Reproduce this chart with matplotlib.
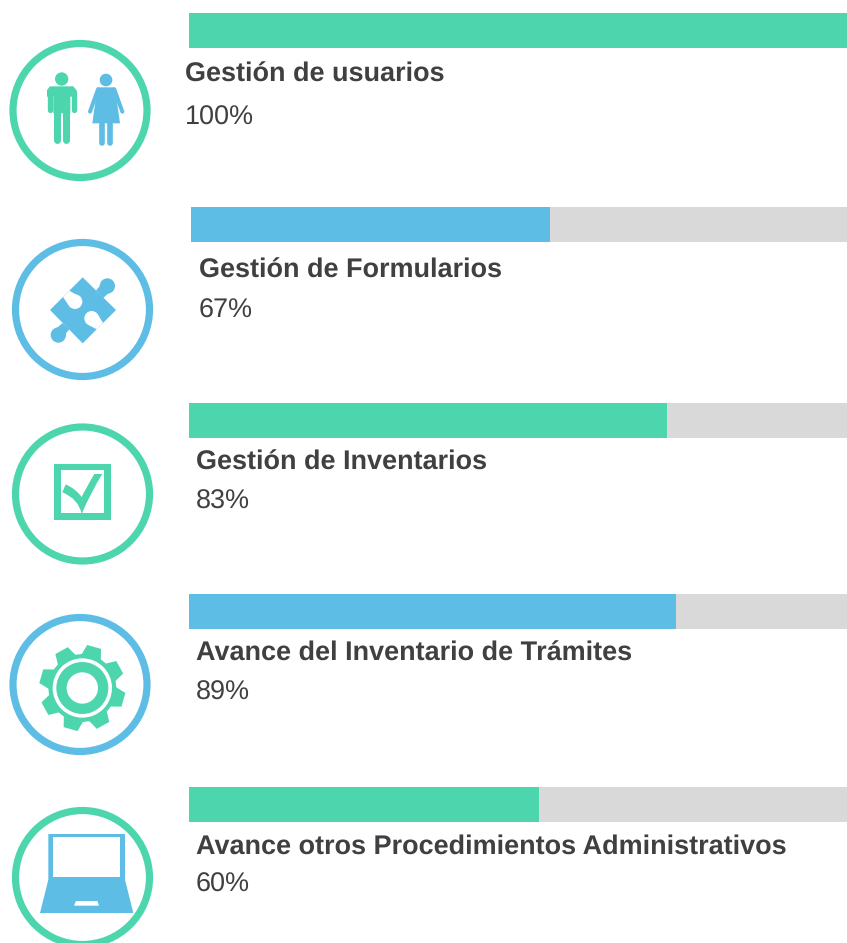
import numpy as np
import matplotlib
matplotlib.use("Agg")
import matplotlib.pyplot as plt
from matplotlib.patches import Circle, Polygon, Rectangle, PathPatch
from matplotlib.path import Path

plt.rcParams["text.hinting"] = "no_hinting"
plt.rcParams["text.hinting_factor"] = 1

# ---- data ----
titles = ["Gestión de usuarios", "Gestión de Formularios", "Gestión de Inventarios",
          "Avance del Inventario de Trámites", "Avance otros Procedimientos Administrativos"]
pct_labels = ["100%", "67%", "83%", "89%", "60%"]
fill_share = [1.0, 0.547, 0.726, 0.740, 0.532]   # drawn length of each bar, share of track

GREEN, BLUE, GREY, TXT = "#4DD6AE", "#5EBDE5", "#D9D9D9", "#404040"
bar_colors = [GREEN, BLUE, GREEN, BLUE, GREEN]
ring_colors = [GREEN, BLUE, GREEN, BLUE, GREEN]
bar_left = [189, 191, 189, 189, 189]
bar_top = [13, 207, 403, 594, 787]
BAR_H, RIGHT = 35, 847
text_x = [185, 199, 196, 196, 196]
title_base = [81.5, 278, 469.5, 660.5, 853.5]
pct_base = [125, 317.5, 509, 699.5, 892]
ring_c = [(80, 110.5), (82.5, 309.5), (82.5, 494), (80, 684.5), (82.5, 877.5)]
R_MID, R_W = 67, 7.2

fig = plt.figure(figsize=(8.47, 9.43), dpi=100)
ax = fig.add_axes([0, 0, 1, 1])
ax.set_xlim(0, 847); ax.set_ylim(943, 0); ax.axis("off")

for i, t in enumerate(titles):
    track = RIGHT - bar_left[i]
    yc = bar_top[i] + BAR_H / 2
    ax.barh(yc, track, height=BAR_H, left=bar_left[i], color=GREY, linewidth=0)
    ax.barh(yc, track * fill_share[i], height=BAR_H, left=bar_left[i],
            color=bar_colors[i], linewidth=0)
    ax.text(text_x[i], title_base[i], t, family="Liberation Sans", weight="bold",
            fontsize=19.37, color=TXT, va="baseline", ha="left")
    ax.text(text_x[i], pct_base[i], pct_labels[i], family="Liberation Sans",
            fontsize=19.37, color=TXT, va="baseline", ha="left")
    ax.add_patch(Circle(ring_c[i], R_MID, fill=False, ec=ring_colors[i], lw=R_W * 0.72))


def zoomer(ox, oy):
    """Map crop-space icon coordinates (3x) to figure pixels."""
    return lambda pts: [(ox + x / 3, oy + y / 3) for x, y in pts]


def poly(z, pts, c, **kw):
    ax.add_patch(Polygon(z(pts), closed=True, fc=c, ec="none", **kw))


def circ(z, c0, r, c):
    ax.add_patch(Circle(z([c0])[0], r / 3, fc=c, ec="none"))


def stroke(z, pts, w, c):
    p = z(pts)
    ax.plot([a for a, _ in p], [b for _, b in p], color=c, lw=w / 3 * 0.72,
            solid_capstyle="round", solid_joinstyle="round")


# icon 1: people
z = zoomer(0, 30)
circ(z, (185, 147), 20, GREEN)
poly(z, [(150, 169), (220, 169), (229, 180), (229, 200), (211, 200), (211, 250), (160, 250), (160, 200), (141, 200), (141, 180)], GREEN)
stroke(z, [(149, 185), (149, 240)], 16, GREEN)
stroke(z, [(221, 185), (221, 240)], 16, GREEN)
stroke(z, [(171, 245), (171, 331)], 21, GREEN)
stroke(z, [(199, 245), (199, 331)], 21, GREEN)
circ(z, (318, 150), 19, BLUE)
poly(z, [(292, 172), (345, 172), (360, 280), (277, 280)], BLUE)
stroke(z, [(294, 178), (270, 245)], 12, BLUE)
stroke(z, [(343, 178), (367, 245)], 12, BLUE)
stroke(z, [(305, 275), (305, 338)], 17, BLUE)
stroke(z, [(331, 275), (331, 338)], 17, BLUE)

# icon 2: puzzle piece
z = zoomer(0, 230)
poly(z, [(248, 142), (348, 240), (248, 340), (150, 240)], BLUE)
circ(z, (322, 168), 23, BLUE)
poly(z, [(288, 181), (304, 163), (327, 188), (310, 204)], BLUE)
circ(z, (175, 315), 23, BLUE)
poly(z, [(208, 298), (188, 279), (168, 296), (190, 320)], BLUE)
circ(z, (225, 215), 22, "white")
poly(z, [(189, 201), (208, 182), (232, 196), (206, 226)], "white")
circ(z, (275, 265), 22, "white")
poly(z, [(309, 279), (290, 298), (264, 284), (294, 254)], "white")

# icon 3: check box
z = zoomer(0, 415)
a = z([(163, 146), (332, 315), (183, 166), (312, 295)])
ax.add_patch(Rectangle(a[0], a[1][0] - a[0][0], a[1][1] - a[0][1], fc=GREEN, ec="none"))
ax.add_patch(Rectangle(a[2], a[3][0] - a[2][0], a[3][1] - a[2][1], fc="white", ec="none"))
verts = z([(187, 232), (197, 208), (228, 222), (245, 246), (262, 212), (283, 177),
           (307, 177), (272, 232), (245, 297), (236, 252), (187, 232), (187, 232)])
codes = [Path.MOVETO, Path.LINETO, Path.CURVE3, Path.CURVE3, Path.CURVE3, Path.CURVE3,
         Path.LINETO, Path.CURVE3, Path.CURVE3, Path.CURVE3, Path.CURVE3, Path.CLOSEPOLY]
ax.add_patch(PathPatch(Path(verts, codes), fc=GREEN, ec="none"))

# icon 4: gear
z = zoomer(0, 605)
center = (247, 249)
pts = []
for a0 in np.arange(74, 74 - 360, -45):
    for off, r in [(17, 102), (9.5, 130), (-9.5, 130), (-17, 102)]:
        t = np.deg2rad(a0 + off)
        pts.append((center[0] + r * np.cos(t), center[1] - r * np.sin(t)))
poly(z, pts, GREEN)
circ(z, center, 89, "white")
circ(z, center, 78, GREEN)
circ(z, center, 47, "white")

# icon 5: laptop
z = zoomer(0, 783)
poly(z, [(145, 153), (375, 153), (375, 290), (400, 390), (120, 390), (145, 290)], BLUE)
poly(z, [(160, 163), (360, 163), (360, 281), (160, 281)], "white")
poly(z, [(228, 354), (292, 354), (297, 368), (222, 368)], "white")

fig.savefig("out.png", dpi=100)
